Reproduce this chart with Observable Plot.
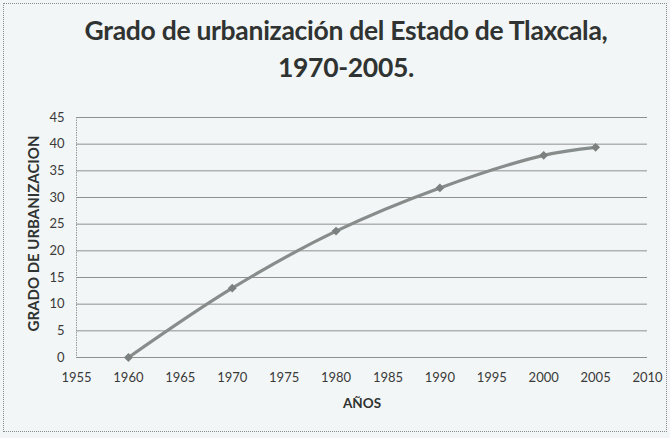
<!DOCTYPE html>
<html>
<head>
<meta charset="utf-8">
<script src="https://cdn.jsdelivr.net/npm/d3@7"></script>
<script src="https://cdn.jsdelivr.net/npm/@observablehq/plot@0.6"></script>
<style>
  html, body { margin: 0; padding: 0; background: #ffffff; }
  #wrap {
    position: relative; width: 670px; height: 438px; box-sizing: border-box;
    background: #f3f6f6; overflow: hidden;
  }
  #frame {
    position: absolute; left: 3px; top: 3px; width: 664px; height: 429px;
    box-sizing: border-box; border: 1px dotted #8a8a8a; pointer-events: none;
  }
  #title {
    height: 95px; box-sizing: border-box; padding-top: 12px;
    font-family: Lato, "Open Sans", sans-serif; font-weight: 700;
    font-size: 26.5px; line-height: 37px; color: #2f3331; text-align: center;
    letter-spacing: -0.3px; padding-left: 22px;
  }
  svg { display: block; }
</style>
</head>
<body>
<div id="wrap">
  <div id="title">Grado de urbanización del Estado de Tlaxcala,<br>1970-2005.</div>
  <div id="chart"></div>
  <div id="frame"></div>
</div>
<script>
const years = [1960, 1970, 1980, 1990, 2000, 2005];
const values = [0, 13, 23.7, 31.8, 37.9, 39.4];
const xTicks = [1955, 1960, 1965, 1970, 1975, 1980, 1985, 1990, 1995, 2000, 2005, 2010];
const yTicks = [0, 5, 10, 15, 20, 25, 30, 35, 40, 45];
const yLabel = "GRADO DE URBANIZACION";
const xLabel = "AÑOS";

const data = years.map((y, i) => ({year: y, value: values[i]}));

const chart = Plot.plot({
  width: 670,
  height: 343,
  marginLeft: 76,
  marginRight: 23,
  marginTop: 22,
  marginBottom: 81,
  style: {background: "transparent", fontFamily: "Lato, 'Open Sans', sans-serif", fontSize: "13px", color: "#3a3a3a"},
  x: {domain: [1955, 2010]},
  y: {domain: [0, 45]},
  marks: [
    Plot.ruleY(yTicks, {stroke: "#8f8f8f", strokeWidth: 1}),
    Plot.ruleX([1955], {stroke: "#9a9a9a", strokeWidth: 1, strokeDasharray: "1.5,1"}),
    Plot.axisY({ticks: yTicks, tickSize: 0, tickPadding: 12, label: null, fontSize: 13, tickFormat: d => String(d)}),
    Plot.axisX({ticks: xTicks, tickSize: 0, tickPadding: 15, label: null, fontSize: 13, tickFormat: d => String(d)}),
    Plot.line(data, {x: "year", y: "value", curve: "catmull-rom", stroke: "#878d8a", strokeWidth: 3.2}),
    Plot.dot(data, {x: "year", y: "value", symbol: "diamond2", r: 4, fill: "#7b817e", stroke: "none"}),
    Plot.text([yLabel], {frameAnchor: "left", textAnchor: "middle", rotate: -90, dx: -42, dy: -4, fontWeight: "bold", fontSize: 15, fill: "#2f3331"}),
    Plot.text([xLabel], {frameAnchor: "bottom", dy: 50, fontWeight: "bold", fontSize: 13.5, fill: "#2f3331"})
  ]
});
document.getElementById("chart").appendChild(chart);
</script>
</body>
</html>
